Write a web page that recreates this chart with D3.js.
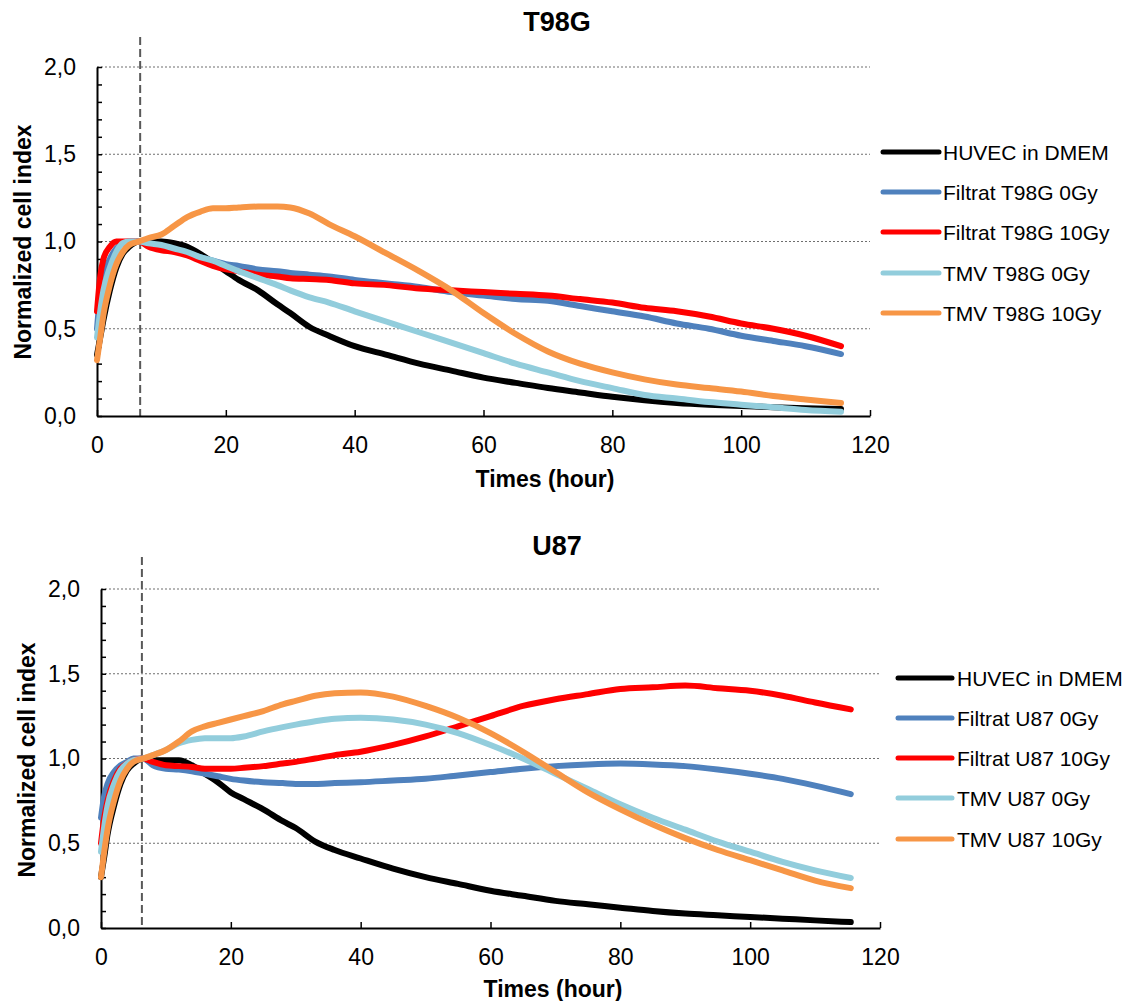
<!DOCTYPE html>
<html>
<head>
<meta charset="utf-8">
<script src="https://cdn.jsdelivr.net/npm/d3@7"></script>
<style>
  html, body { margin: 0; padding: 0; background: #fff; }
  svg { display: block; font-family: "Liberation Sans", Arial, sans-serif; }
</style>
</head>
<body>
<svg id="chart" width="1129" height="1001"></svg>
<script>
// ---------------- DATA ----------------
const hours = [0, 0.5, 1, 2, 3, 4, 5, 6.5, 8, 10, 12, 14, 16, 18, 20, 22, 25, 28, 30, 33, 36, 40, 45, 50, 55, 60, 65, 70, 75, 80, 85, 90, 95, 100, 105, 110, 115.5];

const namesT98G = ["HUVEC in DMEM", "Filtrat T98G 0Gy", "Filtrat T98G 10Gy", "TMV T98G 0Gy", "TMV T98G 10Gy"];
const namesU87 = ["HUVEC in DMEM", "Filtrat U87 0Gy", "Filtrat U87 10Gy", "TMV U87 0Gy", "TMV U87 10Gy"];

const t98gHuvec = [0.35, 0.45, 0.55, 0.72, 0.85, 0.93, 0.97, 1.0, 1.0, 1.0, 0.99, 0.97, 0.93, 0.88, 0.83, 0.78, 0.72, 0.64, 0.59, 0.51, 0.46, 0.40, 0.35, 0.30, 0.26, 0.22, 0.19, 0.16, 0.135, 0.11, 0.09, 0.075, 0.065, 0.058, 0.05, 0.045, 0.04];
const t98gFiltrat0 = [0.5, 0.7, 0.8, 0.9, 0.96, 0.99, 1.0, 1.0, 0.99, 0.97, 0.95, 0.93, 0.91, 0.89, 0.87, 0.86, 0.84, 0.83, 0.82, 0.81, 0.80, 0.78, 0.76, 0.74, 0.71, 0.69, 0.67, 0.66, 0.63, 0.60, 0.57, 0.53, 0.50, 0.46, 0.43, 0.40, 0.355];
const t98gFiltrat10 = [0.6, 0.8, 0.9, 0.97, 1.0, 1.0, 1.0, 1.0, 0.97, 0.95, 0.94, 0.92, 0.89, 0.86, 0.84, 0.83, 0.81, 0.80, 0.79, 0.785, 0.78, 0.76, 0.75, 0.73, 0.72, 0.71, 0.70, 0.69, 0.67, 0.65, 0.62, 0.60, 0.57, 0.53, 0.50, 0.46, 0.40];
const t98gTmv0 = [0.45, 0.6, 0.72, 0.85, 0.94, 0.99, 1.0, 1.0, 0.99, 0.98, 0.96, 0.94, 0.91, 0.89, 0.86, 0.83, 0.79, 0.75, 0.72, 0.68, 0.65, 0.60, 0.54, 0.48, 0.42, 0.36, 0.30, 0.25, 0.20, 0.16, 0.12, 0.10, 0.08, 0.065, 0.05, 0.035, 0.025];
const t98gTmv10 = [0.32, 0.45, 0.58, 0.75, 0.87, 0.94, 0.98, 1.0, 1.02, 1.04, 1.09, 1.14, 1.17, 1.19, 1.19, 1.195, 1.20, 1.20, 1.195, 1.16, 1.10, 1.03, 0.93, 0.83, 0.72, 0.59, 0.47, 0.37, 0.30, 0.25, 0.21, 0.18, 0.16, 0.14, 0.115, 0.095, 0.075];

const u87Huvec = [0.3, 0.42, 0.55, 0.72, 0.85, 0.93, 0.97, 1.0, 0.99, 0.99, 0.99, 0.96, 0.91, 0.86, 0.80, 0.76, 0.70, 0.63, 0.59, 0.51, 0.46, 0.41, 0.35, 0.30, 0.26, 0.22, 0.19, 0.16, 0.14, 0.12, 0.10, 0.085, 0.075, 0.065, 0.055, 0.045, 0.035];
const u87Filtrat0 = [0.65, 0.78, 0.85, 0.92, 0.96, 0.98, 1.0, 1.0, 0.96, 0.94, 0.935, 0.925, 0.91, 0.895, 0.88, 0.87, 0.86, 0.855, 0.85, 0.85, 0.855, 0.86, 0.87, 0.88, 0.90, 0.92, 0.94, 0.955, 0.965, 0.97, 0.965, 0.955, 0.935, 0.91, 0.88, 0.84, 0.79];
const u87Filtrat10 = [0.5, 0.65, 0.75, 0.87, 0.94, 0.97, 0.99, 1.0, 0.98, 0.96, 0.955, 0.95, 0.94, 0.94, 0.94, 0.945, 0.955, 0.97, 0.98, 1.0, 1.02, 1.04, 1.08, 1.13, 1.19, 1.25, 1.31, 1.35, 1.38, 1.41, 1.42, 1.43, 1.415, 1.40, 1.37, 1.33, 1.29];
const u87Tmv0 = [0.45, 0.6, 0.72, 0.85, 0.93, 0.97, 0.99, 1.0, 1.02, 1.05, 1.09, 1.11, 1.12, 1.12, 1.12, 1.13, 1.16, 1.185, 1.20, 1.22, 1.235, 1.24, 1.23, 1.20, 1.15, 1.08, 1.00, 0.91, 0.82, 0.73, 0.65, 0.58, 0.51, 0.45, 0.39, 0.34, 0.295];
const u87Tmv10 = [0.3, 0.45, 0.58, 0.75, 0.87, 0.94, 0.98, 1.0, 1.02, 1.05, 1.10, 1.16, 1.19, 1.21, 1.23, 1.25, 1.28, 1.32, 1.34, 1.37, 1.385, 1.39, 1.365, 1.31, 1.24, 1.15, 1.04, 0.92, 0.80, 0.70, 0.61, 0.53, 0.46, 0.40, 0.34, 0.28, 0.235];

const xTickValues = [0, 20, 40, 60, 80, 100, 120];
const yTickValues = [0, 0.5, 1.0, 1.5, 2.0];
const yTickLabels = ["0,0", "0,5", "1,0", "1,5", "2,0"];
const markerHours = [6.7, 6.3];   // vertical dashed reference line (T98G, U87)
const panelTitles = ["T98G", "U87"];

// ---------------- STYLE / LAYOUT ----------------
const colors = ["#000000", "#4F81BD", "#FF0000", "#92CDDC", "#F79646"];

const panels = [
  { title: panelTitles[0], names: namesT98G, series: [t98gHuvec, t98gFiltrat0, t98gFiltrat10, t98gTmv0, t98gTmv10],
    marker: markerHours[0],
    x0: 97, x1: 870, y0: 416, y1: 67, titleY: 31, markerTop: 37,
    yTitleX: 31, yTitleY: 242, xTitleX: 545, xTitleY: 487,
    legLineX0: 883, legLineX1: 939, legTextX: 943, legY: [152, 192, 232, 273, 313] },
  { title: panelTitles[1], names: namesU87, series: [u87Huvec, u87Filtrat0, u87Filtrat10, u87Tmv0, u87Tmv10],
    marker: markerHours[1],
    x0: 101, x1: 880, y0: 928, y1: 589, titleY: 555, markerTop: 557,
    yTitleX: 35, yTitleY: 760, xTitleX: 553, xTitleY: 997,
    legLineX0: 898, legLineX1: 952, legTextX: 957, legY: [678, 718, 758, 798, 839] }
];

const svg = d3.select("#chart");

panels.forEach(p => {
  const x = d3.scaleLinear().domain([0, 120]).range([p.x0, p.x1]);
  const y = d3.scaleLinear().domain([0, 2]).range([p.y0, p.y1]);
  const g = svg.append("g");

  // gridlines (dotted)
  g.selectAll("line.grid").data(yTickValues.filter(v => v > 0)).enter().append("line")
    .attr("x1", p.x0).attr("x2", p.x1)
    .attr("y1", d => y(d)).attr("y2", d => y(d))
    .attr("stroke", "#6f6f6f").attr("stroke-width", 1.2)
    .attr("stroke-dasharray", "2,2");

  // dashed vertical marker
  g.append("line")
    .attr("x1", x(p.marker)).attr("x2", x(p.marker))
    .attr("y1", p.markerTop).attr("y2", p.y0)
    .attr("stroke", "#595959").attr("stroke-width", 2)
    .attr("stroke-dasharray", "8,4");

  // x axis
  const xAxis = d3.axisBottom(x).tickValues(xTickValues).tickSizeInner(-6).tickSizeOuter(0).tickPadding(21)
    .tickFormat(d3.format("d"));
  const gx = g.append("g").attr("transform", `translate(0,${p.y0})`).call(xAxis);
  gx.select(".domain").attr("stroke", "#000").attr("stroke-width", 2);
  gx.selectAll(".tick line").attr("stroke", "#000").attr("stroke-width", 1.5);
  gx.selectAll(".tick text").attr("font-size", 23).attr("fill", "#000")
    .attr("font-family", "'Liberation Sans', Arial, sans-serif");

  // y axis minor ticks
  const minor = d3.range(0, 21).map(i => i / 10);
  const yMinor = d3.axisLeft(y).tickValues(minor).tickSizeInner(-5).tickSizeOuter(0).tickFormat("");
  const gyMinor = g.append("g").attr("transform", `translate(${p.x0},0)`).call(yMinor);
  gyMinor.select(".domain").attr("stroke", "#000").attr("stroke-width", 2);
  gyMinor.selectAll(".tick line").attr("stroke", "#000").attr("stroke-width", 1.5);

  // y axis labels
  const yAxis = d3.axisLeft(y).tickValues(yTickValues).tickSize(0).tickPadding(21)
    .tickFormat((d, i) => yTickLabels[i]);
  const gy = g.append("g").attr("transform", `translate(${p.x0},0)`).call(yAxis);
  gy.select(".domain").remove();
  gy.selectAll(".tick text").attr("font-size", 23).attr("fill", "#000")
    .attr("font-family", "'Liberation Sans', Arial, sans-serif");

  // lines
  const line = d3.line().x((d, i) => x(hours[i])).y(d => y(d)).curve(d3.curveMonotoneX);
  p.series.forEach((s, k) => {
    g.append("path").datum(s)
      .attr("d", line)
      .attr("fill", "none")
      .attr("stroke", colors[k])
      .attr("stroke-width", 6)
      .attr("stroke-linecap", "round")
      .attr("stroke-linejoin", "round");
  });

  // titles
  g.append("text").attr("x", 557).attr("y", p.titleY).attr("text-anchor", "middle")
    .attr("font-size", 27).attr("font-weight", "bold").text(p.title);
  g.append("text").attr("transform", `translate(${p.yTitleX},${p.yTitleY}) rotate(-90)`)
    .attr("text-anchor", "middle").attr("font-size", 23).attr("font-weight", "bold")
    .text("Normalized cell index");
  g.append("text").attr("x", p.xTitleX).attr("y", p.xTitleY).attr("text-anchor", "middle")
    .attr("font-size", 23).attr("font-weight", "bold").text("Times (hour)");

  // legend
  p.names.forEach((n, k) => {
    g.append("line")
      .attr("x1", p.legLineX0).attr("x2", p.legLineX1)
      .attr("y1", p.legY[k]).attr("y2", p.legY[k])
      .attr("stroke", colors[k]).attr("stroke-width", 5).attr("stroke-linecap", "round");
    g.append("text").attr("x", p.legTextX).attr("y", p.legY[k] + 7.5)
      .attr("font-size", 21).attr("fill", "#000").text(n);
  });
});
</script>
</body>
</html>
